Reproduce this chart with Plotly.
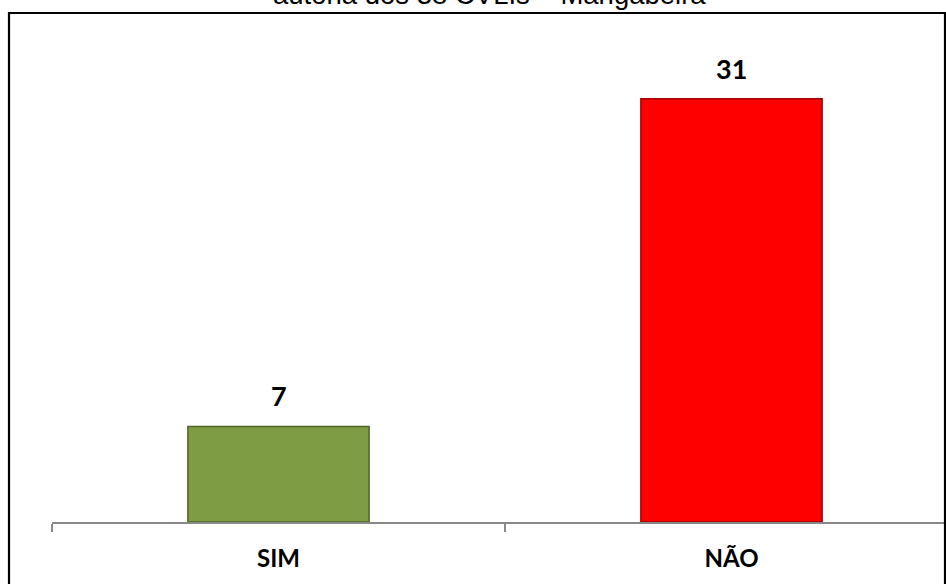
import plotly.graph_objects as go

categories = ["SIM", "NÃO"]
values = [7, 31]
bar_colors = ["#7E9C44", "#FF0000"]
line_colors = ["#4F6425", "#A00000"]
title_text = "autoria dos 38 CVLIs – Mangabeira"

W, H = 946, 584
L, R, T, B = 52, 0, 44, 584 - 522
plot_w = W - L - R
plot_h = H - T - B
unit = 453.0  # px per category
base_y = H - B  # pixel y of axis

fig = go.Figure()
fig.add_trace(go.Bar(
    x=categories, y=values,
    width=0.40,
    marker=dict(color=bar_colors, line=dict(color=line_colors, width=1.5)),
    hoverinfo="skip",
))

for c, v in zip(categories, values):
    fig.add_annotation(x=c, y=v, xref="x", yref="y", text=str(v), showarrow=False,
                       yanchor="bottom", yshift=12,
                       font=dict(family="Lato", size=27, color="black", weight="bold"))

# title (clipped at top of the picture)
title_center_px = -5.5
fig.add_annotation(x=(489.5 - L) / plot_w, y=(base_y - title_center_px) / plot_h,
                   xref="paper", yref="paper",
                   text=title_text, showarrow=False, xanchor="center", yanchor="middle",
                   font=dict(family="Liberation Sans", size=27.5, color="black"))

# outer border
fig.add_shape(type="rect", xref="paper", yref="paper",
              x0=(9 - L) / plot_w, x1=(945 - L) / plot_w,
              y0=(base_y - 600) / plot_h, y1=(base_y - 13) / plot_h,
              line=dict(color="black", width=2.2), fillcolor="rgba(0,0,0,0)")

fig.update_layout(
    width=W, height=H,
    margin=dict(l=L, r=R, t=T, b=B, pad=0),
    paper_bgcolor="white", plot_bgcolor="white",
    showlegend=False,
    xaxis=dict(
        type="category",
        range=[-0.5, -0.5 + plot_w / unit],
        showline=True, linecolor="#888888", linewidth=2,
        ticks="outside", tickson="boundaries", ticklen=8, tickcolor="#888888", tickwidth=2,
        ticklabelstandoff=14,
        tickfont=dict(family="Lato", size=24, color="black", weight="bold"),
        showgrid=False, zeroline=False,
    ),
    yaxis=dict(range=[0, 35], visible=False, showgrid=False, zeroline=False),
)

fig.write_html("out.html", config={"displayModeBar": False},
               post_script="document.body.style.margin='0';document.body.style.overflow='hidden';")
